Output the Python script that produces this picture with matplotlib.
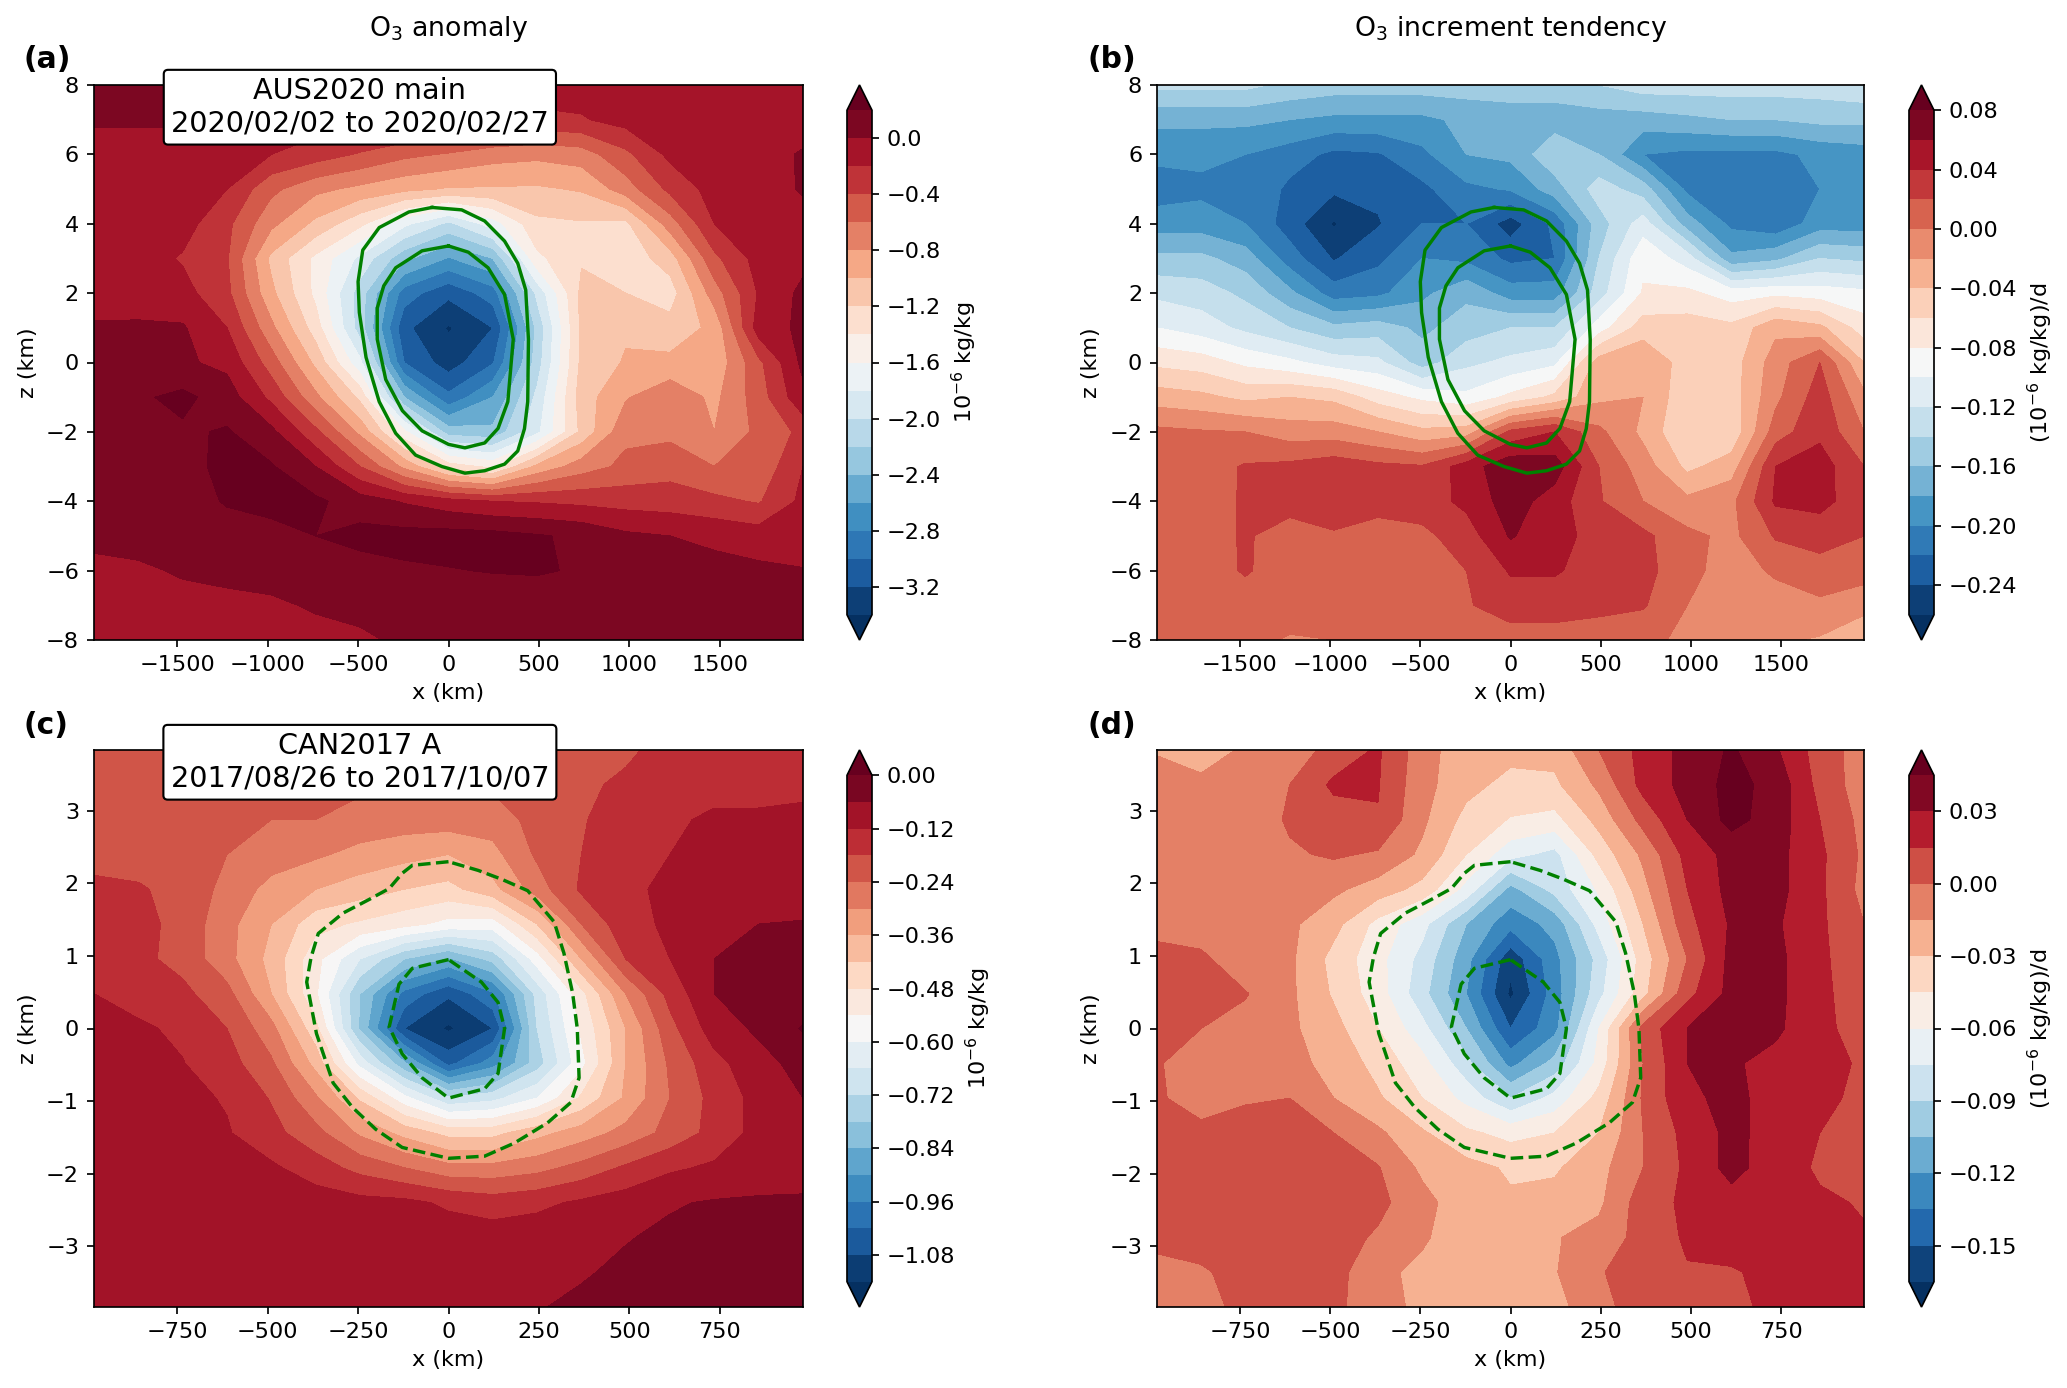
import numpy as np
import matplotlib
matplotlib.use("Agg")
import matplotlib.pyplot as plt

plt.rcParams["font.size"] = 10.5

# grid of the wide panels (a, b) and the narrow panels (c, d)
x_wide = np.arange(-8, 9) * 245.0
z_wide = np.arange(8, -9, -1) * 1.0
x_narrow = np.arange(-8, 9) * 122.5
z_narrow = np.arange(8, -9, -1) * 0.48

# O3 anomaly, AUS2020 (rows go from top to bottom)
anom_aus = [
    [0.05, 0.05, 0.05, 0.03, -0.1, -0.1, -0.1, -0.1, -0.1, -0.1, -0.1, -0.1, -0.1, -0.1, -0.1, -0.1, -0.1],
    [0.03, 0.03, 0.03, 0.0, -0.1, -0.1, -0.1, -0.1, -0.12, -0.15, -0.25, -0.22, -0.12, -0.1, -0.1, -0.1, -0.1],
    [-0.1, -0.1, -0.1, -0.1, -0.2, -0.3, -0.42, -0.55, -0.62, -0.72, -0.75, -0.7, -0.45, -0.15, -0.1, -0.08, 0.02],
    [-0.1, -0.1, -0.1, -0.2, -0.55, -0.75, -0.85, -0.95, -1.02, -1.02, -1.03, -0.98, -0.7, -0.35, -0.12, -0.1, 0.02],
    [-0.08, -0.1, -0.12, -0.35, -0.75, -1.05, -1.35, -1.75, -2.05, -1.7, -1.25, -1.22, -1.25, -0.7, -0.2, -0.1, -0.08],
    [-0.05, -0.1, -0.22, -0.38, -1.05, -1.45, -1.85, -2.35, -2.62, -2.4, -1.45, -1.22, -1.33, -1.1, -0.45, -0.12, -0.06],
    [-0.08, -0.1, -0.13, -0.35, -0.95, -1.45, -2.1, -2.9, -3.15, -2.9, -1.95, -1.15, -1.2, -1.3, -0.7, -0.18, 0.05],
    [0.02, 0.03, 0.02, -0.2, -0.75, -1.3, -2.1, -3.15, -3.42, -3.2, -2.15, -1.15, -1.03, -1.12, -0.95, -0.1, 0.04],
    [0.03, 0.03, 0.03, -0.05, -0.5, -1.05, -1.75, -3.0, -3.3, -3.02, -2.1, -1.15, -0.98, -0.95, -0.95, -0.45, 0.05],
    [0.05, 0.17, 0.25, 0.1, -0.25, -0.75, -1.25, -2.4, -2.95, -2.6, -1.95, -1.1, -0.82, -0.65, -0.85, -0.5, -0.05],
    [0.05, 0.1, 0.17, 0.22, 0.05, -0.35, -0.85, -1.55, -2.3, -2.35, -1.85, -1.15, -0.65, -0.65, -0.8, -0.55, -0.35],
    [0.05, 0.08, 0.1, 0.28, 0.22, 0.0, -0.4, -0.85, -1.3, -1.45, -0.95, -0.7, -0.55, -0.48, -0.6, -0.55, -0.2],
    [0.05, 0.06, 0.1, 0.22, 0.26, 0.24, 0.1, -0.02, -0.12, -0.2, -0.22, -0.25, -0.28, -0.3, -0.35, -0.42, -0.15],
    [0.05, 0.07, 0.07, 0.1, 0.14, 0.2, 0.26, 0.27, 0.28, 0.27, 0.22, 0.16, 0.04, 0.0, -0.05, -0.1, -0.1],
    [-0.05, -0.03, 0.02, 0.05, 0.07, 0.1, 0.12, 0.17, 0.19, 0.21, 0.22, 0.18, 0.12, 0.1, 0.07, 0.04, 0.01],
    [-0.08, -0.07, -0.06, -0.05, -0.03, 0.02, 0.05, 0.08, 0.08, 0.08, 0.08, 0.08, 0.08, 0.08, 0.08, 0.08, 0.08],
    [-0.08, -0.08, -0.08, -0.07, -0.07, -0.06, -0.03, 0.03, 0.07, 0.07, 0.07, 0.07, 0.07, 0.07, 0.07, 0.07, 0.07],
]

# O3 increment tendency, AUS2020
tend_aus = [
    [-.135, -.135, -.135, -.145, -.15, -.15, -.15, -.15, -.15, -.15, -.14, -.13, -.13, -.13, -.13, -.13, -.125],
    [-.175, -.175, -.175, -.18, -.185, -.185, -.185, -.175, -.17, -.17, -.17, -.17, -.165, -.16, -.16, -.155, -.155],
    [-.195, -.195, -.20, -.21, -.225, -.222, -.205, -.18, -.175, -.145, -.16, -.20, -.205, -.205, -.205, -.195, -.19],
    [-.21, -.205, -.20, -.225, -.236, -.235, -.225, -.205, -.198, -.17, -.13, -.15, -.205, -.215, -.22, -.20, -.19],
    [-.19, -.19, -.20, -.23, -.262, -.242, -.22, -.22, -.25, -.215, -.15, -.11, -.17, -.205, -.215, -.19, -.19],
    [-.155, -.155, -.17, -.21, -.242, -.225, -.20, -.205, -.225, -.22, -.14, -.085, -.11, -.175, -.165, -.14, -.145],
    [-.125, -.13, -.145, -.175, -.21, -.205, -.185, -.165, -.19, -.19, -.13, -.078, -.075, -.09, -.085, -.09, -.095],
    [-.10, -.11, -.125, -.14, -.155, -.15, -.165, -.15, -.14, -.14, -.09, -.05, -.05, -.055, -.025, -.035, -.07],
    [-.065, -.07, -.085, -.095, -.11, -.115, -.15, -.125, -.115, -.105, -.03, -.022, -.05, -.05, -.01, .02, -.04],
    [-.03, -.035, -.045, -.04, -.045, -.07, -.085, -.095, -.075, -.055, -.025, -.02, -.055, -.05, -.005, .03, -.015],
    [.005, .002, .0, -.01, -.01, -.02, -.035, -.03, .025, .04, .005, -.025, -.06, -.055, .01, .035, .0],
    [.015, .01, .022, .025, .032, .025, .022, .05, .075, .07, .02, -.01, -.045, -.03, .04, .05, .02],
    [.015, .012, .022, .027, .03, .027, .03, .045, .07, .05, .022, .0, -.015, -.005, .043, .048, .025],
    [.012, .012, .022, .012, .018, .012, .015, .03, .062, .045, .035, .025, .005, -.005, .022, .025, .02],
    [.01, .01, .022, .01, .01, .01, .01, .02, .042, .042, .032, .025, .01, -.015, .005, .015, .012],
    [.01, .01, .01, .01, .01, .01, .01, .018, .03, .03, .025, .022, .0, -.015, -.015, -.005, -.018],
    [.008, .008, .006, -.002, .0, .006, .008, .01, .01, .01, .01, .006, -.005, -.015, -.017, -.022, -.025],
]

# O3 anomaly, CAN2017
anom_can = [
    [-.22, -.22, -.22, -.22, -.22, -.22, -.22, -.22, -.22, -.22, -.21, -.2, -.19, -.16, -.15, -.15, -.15],
    [-.22, -.22, -.22, -.22, -.22, -.22, -.23, -.23, -.23, -.23, -.2, -.19, -.17, -.15, -.14, -.14, -.13],
    [-.21, -.21, -.22, -.23, -.24, -.24, -.26, -.27, -.27, -.27, -.22, -.185, -.15, -.13, -.11, -.11, -.11],
    [-.195, -.2, -.21, -.24, -.27, -.29, -.32, -.34, -.36, -.32, -.23, -.18, -.14, -.12, -.11, -.10, -.10],
    [-.17, -.175, -.195, -.26, -.32, -.36, -.39, -.42, -.44, -.38, -.27, -.17, -.13, -.11, -.11, -.10, -.10],
    [-.15, -.16, -.2, -.28, -.36, -.46, -.49, -.52, -.56, -.57, -.42, -.24, -.14, -.11, -.10, -.06, -.055],
    [-.15, -.165, -.2, -.28, -.38, -.52, -.66, -.78, -.85, -.76, -.57, -.36, -.18, -.12, -.06, -.05, -.04],
    [-.12, -.14, -.165, -.22, -.36, -.53, -.78, -.98, -1.07, -.97, -.7, -.5, -.3, -.16, -.06, -.05, -.04],
    [-.105, -.112, -.13, -.18, -.28, -.46, -.79, -1.08, -1.15, -1.08, -.72, -.53, -.36, -.2, -.09, -.05, .005],
    [-.105, -.105, -.118, -.155, -.23, -.38, -.62, -.83, -1.04, -.93, -.75, -.56, -.36, -.23, -.14, -.08, -.04],
    [-.105, -.105, -.105, -.125, -.185, -.29, -.43, -.58, -.71, -.68, -.6, -.47, -.35, -.24, -.16, -.1, -.06],
    [-.10, -.10, -.10, -.115, -.16, -.22, -.31, -.38, -.44, -.44, -.38, -.33, -.28, -.22, -.16, -.1, -.09],
    [-.1, -.1, -.1, -.1, -.11, -.15, -.2, -.24, -.28, -.28, -.26, -.22, -.17, -.13, -.11, -.1, -.09],
    [-.09, -.09, -.09, -.09, -.09, -.09, -.1, -.105, -.13, -.15, -.135, -.11, -.09, -.065, -.055, -.05, -.05],
    [-.09, -.09, -.09, -.09, -.09, -.09, -.09, -.09, -.09, -.09, -.085, -.08, -.063, -.05, -.04, -.04, -.04],
    [-.09, -.09, -.09, -.09, -.09, -.09, -.09, -.09, -.09, -.08, -.075, -.065, -.05, -.04, -.04, -.04, -.04],
    [-.09, -.09, -.09, -.09, -.09, -.09, -.09, -.09, -.09, -.075, -.063, -.05, -.04, -.03, -.03, -.03, -.03],
]

# O3 increment tendency, CAN2017
tend_can = [
    [-.016, -.025, -.012, -.008, .005, .017, -.008, -.025, -.025, -.025, .0, .02, .035, .047, .032, .008, -.007],
    [-.01, -.01, -.01, -.0, .018, .016, -.01, -.025, -.035, -.033, -.012, .02, .035, .05, .04, .01, -.008],
    [-.01, -.01, -.01, .002, .008, .014, -.012, -.035, -.046, -.05, -.025, .005, .03, .05, .038, .015, -.005],
    [-.01, -.01, -.01, -.002, .002, -.002, -.018, -.045, -.07, -.08, -.04, -.012, .02, .035, .035, .018, -.003],
    [-.01, -.01, -.01, -.012, -.012, -.022, -.035, -.065, -.11, -.085, -.058, -.02, .015, .035, .035, .018, -.005],
    [-.002, -.008, -.012, -.012, -.025, -.05, -.07, -.105, -.13, -.115, -.07, -.03, .01, .032, .032, .018, .0],
    [.002, .003, -.01, -.012, -.035, -.055, -.08, -.115, -.16, -.125, -.085, -.038, .0, .035, .034, .018, .005],
    [.005, .005, .001, -.012, -.032, -.053, -.085, -.12, -.168, -.128, -.08, -.035, .01, .035, .034, .018, .008],
    [.004, .0, -.005, -.012, -.025, -.045, -.07, -.105, -.15, -.125, -.06, .005, .03, .035, .033, .018, .01],
    [.002, -.012, -.012, -.01, -.02, -.035, -.055, -.085, -.125, -.1, -.055, .0, .03, .032, .025, .02, .013],
    [.003, -.01, -.002, .0, -.015, -.028, -.045, -.065, -.09, -.07, -.04, .002, .027, .034, .024, .018, .012],
    [.006, .006, .008, .008, .0, -.012, -.028, -.042, -.05, -.045, -.03, .0, .02, .034, .024, .015, .012],
    [.007, .007, .007, .007, .005, .001, -.018, -.025, -.032, -.032, -.02, .0, .018, .035, .022, .013, .013],
    [.007, .007, .007, .007, .007, .004, -.01, -.024, -.028, -.025, -.018, .008, .018, .024, .023, .017, .014],
    [.007, .007, .007, .007, .006, -.002, -.012, -.028, -.03, -.016, -.01, .006, .017, .02, .02, .018, .016],
    [-.008, -.002, .006, .006, .005, -.01, -.02, -.028, -.028, -.016, -.002, .012, .014, .014, .018, .022, .02],
    [-.012, -.006, .005, .005, .004, -.01, -.018, -.028, -.028, -.02, -.005, .008, .01, .012, .018, .022, .022],
]

# green contour lines (x km, z km)
aus_outer_x = [-91, 73, 200, 310, 383, 427, 442, 438, 420, 383, 310, 200, 91, -36, -182, -292, -383, -456, -493, -500, -474, -383, -219, -91]
aus_outer_z = [4.47, 4.40, 4.08, 3.50, 2.86, 2.09, 0.67, -1.13, -1.91, -2.55, -2.93, -3.12, -3.19, -3.0, -2.67, -2.04, -1.13, 0.15, 1.44, 2.33, 3.24, 3.89, 4.34, 4.47]
aus_inner_x = [0, 110, 219, 310, 358, 328, 274, 200, 91, 0, -146, -255, -347, -394, -394, -358, -292, -146, 0]
aus_inner_z = [3.36, 3.18, 2.73, 1.96, 0.67, -1.13, -1.9, -2.32, -2.46, -2.36, -1.97, -1.39, -0.49, 0.67, 1.57, 2.21, 2.73, 3.22, 3.36]
can_outer_x = [0, -100, -128, -164, -219, -292, -360, -380, -392, -365, -319, -265, -201, -128, 0, 100, 182, 274, 338, 361, 356, 343, 319, 292, 219, 146, 82, 0]
can_outer_z = [2.30, 2.25, 2.14, 1.93, 1.78, 1.59, 1.31, 0.98, 0.64, -0.07, -0.75, -1.09, -1.39, -1.64, -1.79, -1.76, -1.58, -1.30, -1.02, -0.68, 0, 0.49, 1.04, 1.47, 1.90, 2.06, 2.18, 2.30]
can_inner_x = [0, -100, -137, -164, -128, -73, 0, 100, 137, 155, 137, 91, 0]
can_inner_z = [0.95, 0.83, 0.61, 0.02, -0.35, -0.68, -0.96, -0.83, -0.62, 0, 0.36, 0.64, 0.95]

levels_a = np.linspace(-3.4, 0.2, 19)
levels_b = np.linspace(-0.26, 0.08, 18)
levels_c = np.linspace(-1.14, 0.0, 20)
levels_d = np.linspace(-0.165, 0.045, 15)

ticks_a = [-3.2, -2.8, -2.4, -2.0, -1.6, -1.2, -0.8, -0.4, 0.0]
ticks_b = [-0.24, -0.20, -0.16, -0.12, -0.08, -0.04, 0.0, 0.04, 0.08]
ticks_c = [-1.08, -0.96, -0.84, -0.72, -0.60, -0.48, -0.36, -0.24, -0.12, 0.0]
ticks_d = [-0.15, -0.12, -0.09, -0.06, -0.03, 0.0, 0.03]

W, H = 2067, 1388
DPI = 153
fig = plt.figure(figsize=(W / DPI, H / DPI), dpi=DPI)


def box(left, top, right, bottom):
    # pixel box -> figure fraction
    return [left / W, 1 - bottom / H, (right - left) / W, (bottom - top) / H]


def panel(pos, cpos, x, z, data, levels, ticks, cblabel, lines, ls):
    ax = fig.add_axes(box(*pos))
    cf = ax.contourf(x, z, np.array(data), levels=levels, cmap="RdBu_r", extend="both")
    for lx, lz in lines:
        ax.plot(lx, lz, color="green", ls=ls, lw=1.6)
    ax.set_xlabel("x (km)")
    ax.set_ylabel("z (km)")
    cax = fig.add_axes(box(*cpos))
    cb = fig.colorbar(cf, cax=cax, ticks=ticks)
    cb.set_label(cblabel)
    return ax


aus_lines = [(aus_outer_x, aus_outer_z), (aus_inner_x, aus_inner_z)]
can_lines = [(can_outer_x, can_outer_z), (can_inner_x, can_inner_z)]

ax_a = panel((94, 85, 803, 640), (847, 85, 872, 640), x_wide, z_wide, anom_aus, levels_a, ticks_a,
             r"$10^{-6}$ kg/kg", aus_lines, "-")
ax_b = panel((1157, 85, 1864, 640), (1909, 85, 1934, 640), x_wide, z_wide, tend_aus, levels_b, ticks_b,
             r"($10^{-6}$ kg/kg)/d", aus_lines, "-")
ax_c = panel((94, 750, 803, 1307), (847, 750, 872, 1307), x_narrow, z_narrow, anom_can, levels_c, ticks_c,
             r"$10^{-6}$ kg/kg", can_lines, "--")
ax_d = panel((1157, 750, 1864, 1307), (1909, 750, 1934, 1307), x_narrow, z_narrow, tend_can, levels_d, ticks_d,
             r"($10^{-6}$ kg/kg)/d", can_lines, "--")

for ax in (ax_a, ax_b):
    ax.set_xlim(-1960, 1960)
    ax.set_ylim(-8, 8)
    ax.set_xticks([-1500, -1000, -500, 0, 500, 1000, 1500])
    ax.set_yticks([-8, -6, -4, -2, 0, 2, 4, 6, 8])
for ax in (ax_c, ax_d):
    ax.set_xlim(-980, 980)
    ax.set_ylim(-3.84, 3.84)
    ax.set_xticks([-750, -500, -250, 0, 250, 500, 750])
    ax.set_yticks([-3, -2, -1, 0, 1, 2, 3])

ax_a.set_title(r"O$_3$ anomaly", pad=23)
ax_b.set_title(r"O$_3$ increment tendency", pad=23)

boxstyle = dict(boxstyle="round,pad=0.25,rounding_size=0.15", fc="white", ec="black", lw=1.0)
ax_a.text(0.375, 0.960, "AUS2020 main\n2020/02/02 to 2020/02/27", transform=ax_a.transAxes, ha="center",
          va="center", fontsize=13.5, bbox=boxstyle, zorder=10, clip_on=False)
ax_c.text(0.375, 0.978, "CAN2017 A\n2017/08/26 to 2017/10/07", transform=ax_c.transAxes, ha="center",
          va="center", fontsize=13.5, bbox=boxstyle, zorder=10, clip_on=False)

for label, px, py in [("(a)", 24, 59), ("(b)", 1087, 59), ("(c)", 24, 726), ("(d)", 1087, 726)]:
    fig.text(px / W, 1 - py / H, label, fontsize=14, fontweight="bold", va="center")

fig.savefig("out.png", dpi=DPI)
